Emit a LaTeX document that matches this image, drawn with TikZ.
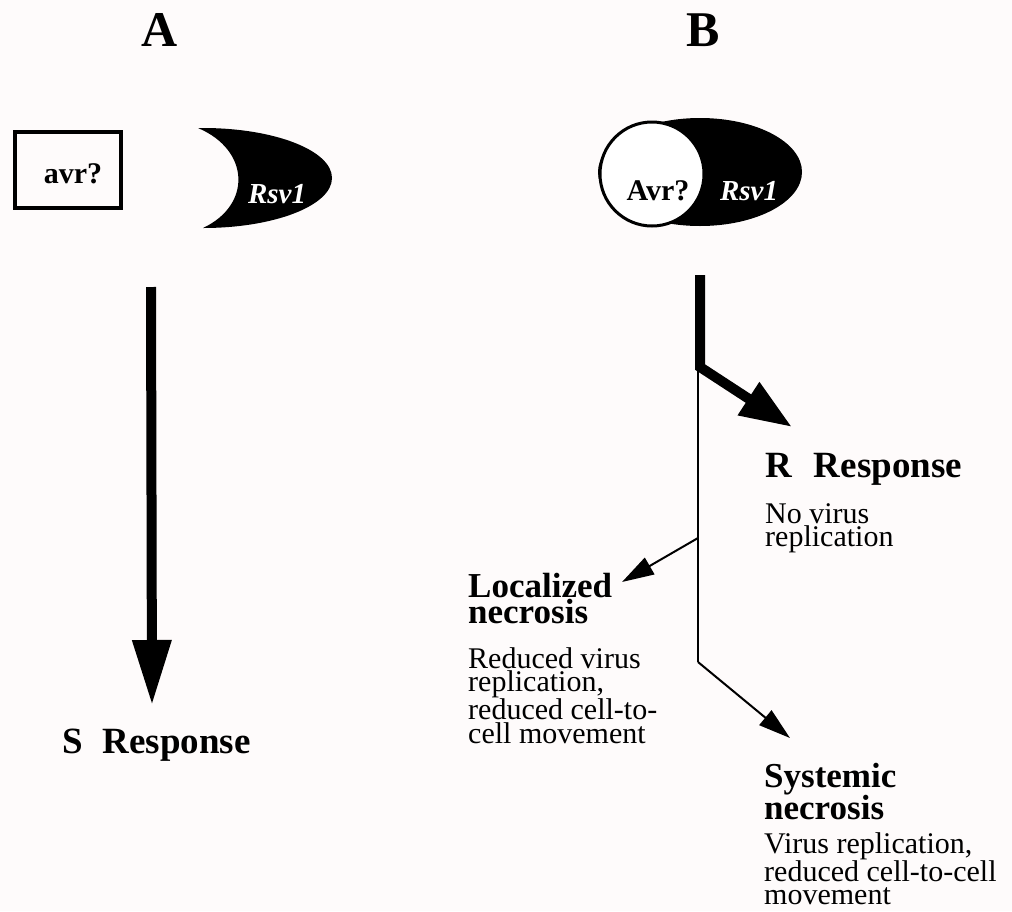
\documentclass[tikz,border=0pt]{standalone}
\usepackage{fontspec}
\setmainfont{Liberation Serif}
\usetikzlibrary{arrows.meta}
\definecolor{bg}{RGB}{254,251,251}
\newcommand\stk[1]{\vtop{\halign{##\hfil\cr#1\crcr}}}
\tikzset{
  panel/.style={font=\bfseries\fontsize{50}{52}\selectfont, anchor=base, inner sep=0},
  resp/.style={font=\bfseries\fontsize{37}{40}\selectfont, anchor=base west, inner sep=0},
  head/.style={font=\bfseries\fontsize{35}{26}\selectfont, anchor=base west, inner sep=0},
  desc/.style={font=\fontsize{30}{23.5}\selectfont, anchor=base west, inner sep=0},
  gene/.style={font=\bfseries\fontsize{30}{32}\selectfont, anchor=base, inner sep=0},
  thick arrow/.style={line width=10pt},
  thin arrow/.style={line width=2pt, -{Triangle[length=32pt,width=19pt]}},
}
\begin{document}
\begin{tikzpicture}[x=1pt,y=-1pt]
\fill[bg] (0,0) rectangle (1012,911);
\useasboundingbox (0,0) rectangle (1012,911);
% panel letters
\node[panel] (A) at (160,46) {A};
\node[panel] (B) at (703,46) {B};
% panel A
\node[draw, line width=4pt, minimum width=106pt, minimum height=76pt, inner sep=0] (avrbox) at (68,170) {};
\node[gene] (avr) at (73,183) {avr?};
\fill (203,128) arc[start angle=-90, end angle=90, x radius=129, y radius=50]
      .. controls (252,205) and (250,150) .. (198,128) -- cycle;
\node[gene, text=white, font=\bfseries\itshape\fontsize{29}{30}\selectfont] (rsvA) at (277,203) {Rsv1};
\coordinate (a1) at (151,287);
\coordinate (a2) at (152,705);
\draw[thick arrow, -{Triangle[length=65pt,width=37pt]}] (a1) -- (a2);
\node[resp] (S) at (62,753) {S\hspace{20pt}Response};
% panel B
\fill (700,172) ellipse[x radius=102, y radius=54];
\filldraw[fill=white, line width=3pt] (652,174) circle[radius=52];
\node[gene] (Avr) at (658,200) {Avr?};
\node[gene, text=white, font=\bfseries\itshape\fontsize{29}{30}\selectfont] (rsvB) at (749,200) {Rsv1};
\coordinate (b1) at (700,275);
\coordinate (b2) at (700,367);
\coordinate (rtip) at (792,427);
\draw[thick arrow, -{Triangle[length=52pt,width=37pt]}] (b1) -- (b2) -- (rtip);
\coordinate (t1) at (698,367);
\coordinate (j1) at (698,538);
\coordinate (j2) at (698,662);
\draw[line width=2pt] (t1) -- (j2);
\coordinate (ltip) at (622,582);
\coordinate (stip) at (790,738);
\draw[thin arrow] (j1) -- (ltip);
\draw[thin arrow] (j2) -- (stip);
\node[resp] (R) at (765,477) {R\hspace{22pt}Response};
\node[desc] (Rd) at (765,523) {\stk{No virus\cr replication}};
\node[head] (L) at (468,597) {\stk{Localized\cr necrosis}};
\node[desc] (Ld) at (468,668) {\stk{Reduced virus\cr replication,\cr reduced cell-to-\cr cell movement}};
\node[head] (Sy) at (764,787) {\stk{Systemic\cr necrosis}};
\node[desc] (Syd) at (764,853) {\stk{Virus replication,\cr reduced cell-to-cell\cr movement}};
\end{tikzpicture}
\end{document}
